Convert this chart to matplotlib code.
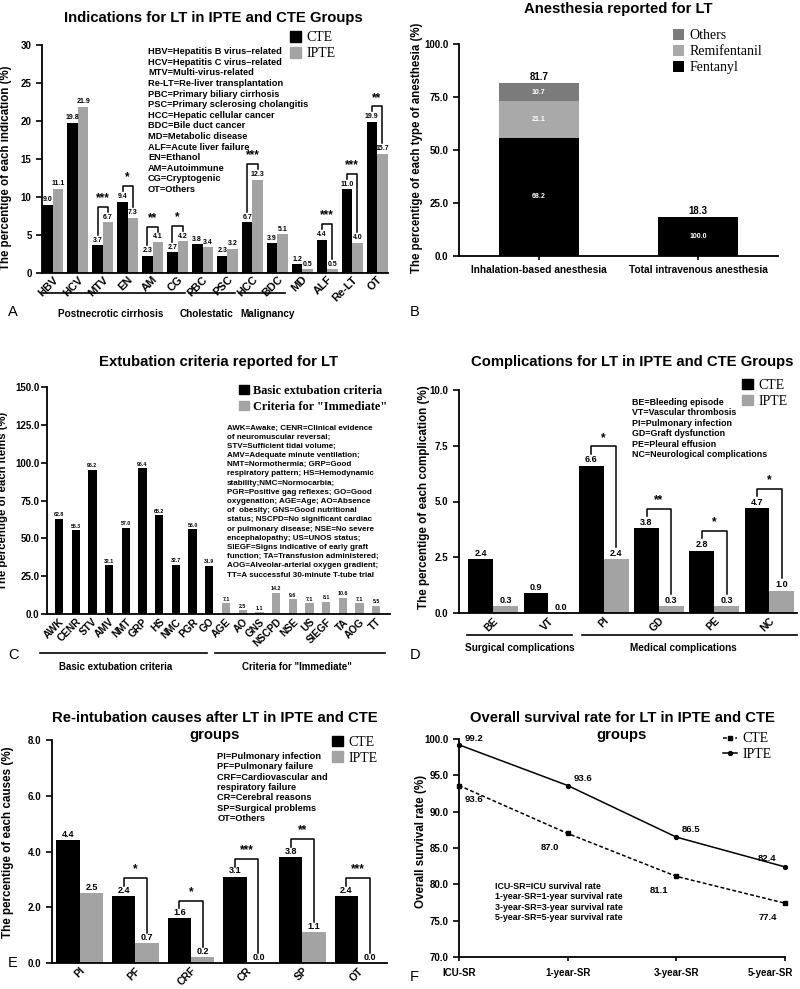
import matplotlib
matplotlib.use("Agg")
import matplotlib.pyplot as plt
from matplotlib.patches import Patch
import matplotlib.transforms as mtrans
import numpy as np

plt.rcParams['font.family'] = ['Liberation Sans', 'DejaVu Sans']
plt.rcParams['font.weight'] = 'bold'
plt.rcParams['axes.labelweight'] = 'bold'
plt.rcParams['axes.linewidth'] = 1.3

W, H = 800, 989
GRAY = '#a3a3a3'
SERIF = {'family': 'Liberation Serif', 'size': 10, 'weight': 'normal'}

# A - indications
ind_labels = ["HBV", "HCV", "MTV", "EN", "AM", "CG", "PBC", "PSC", "HCC", "BDC", "MD", "ALF", "Re-LT", "OT"]
ind_cte = [9.0, 19.8, 3.7, 9.4, 2.3, 2.7, 3.8, 2.3, 6.7, 3.9, 1.2, 4.4, 11.0, 19.9]
ind_ipte = [11.1, 21.9, 6.7, 7.3, 4.1, 4.2, 3.4, 3.2, 12.3, 5.1, 0.5, 0.5, 4.0, 15.7]
ind_sig = {"MTV": "***", "EN": "*", "AM": "**", "CG": "*", "HCC": "***", "ALF": "***", "Re-LT": "***", "OT": "**"}
ind_groups = [("Postnecrotic cirrhosis", 0, 5), ("Cholestatic", 6, 7), ("Malignancy", 8, 9)]
ind_abbr = ["HBV=Hepatitis B virus\u2013related", "HCV=Hepatitis C virus\u2013related", "MTV=Multi-virus-related",
            "Re-LT=Re-liver transplantation", "PBC=Primary biliary cirrhosis", "PSC=Primary sclerosing cholangitis",
            "HCC=Hepatic cellular cancer", "BDC=Bile duct cancer", "MD=Metabolic disease", "ALF=Acute liver failure",
            "EN=Ethanol", "AM=Autoimmune", "CG=Cryptogenic", "OT=Others"]

# B - anesthesia
anes_labels = ["Inhalation-based anesthesia", "Total intravenous anesthesia"]
anes_total = [81.7, 18.3]
fentanyl = [68.2, 100.0]
remifentanil = [21.1, 0.0]
others = [10.7, 0.0]

# C - extubation criteria
ext_labels = ["AWK", "CENR", "STV", "AMV", "NMT", "GRP", "HS", "NMC", "PGR", "GO",
              "AGE", "AO", "GNS", "NSCPD", "NSE", "US", "SIEGF", "TA", "AOG", "TT"]
ext_values = [62.8, 55.3, 95.2, 32.1, 57.0, 96.4, 65.2, 32.7, 56.0, 31.9,
              7.1, 2.5, 1.1, 14.2, 9.6, 7.1, 8.1, 10.6, 7.1, 5.5]
n_basic = 10
ext_abbr = ["AWK=Awake; CENR=Clinical evidence", "of neuromuscular reversal;", "STV=Sufficient tidal volume;",
            "AMV=Adequate minute ventilation;", "NMT=Normothermia; GRP=Good", "respiratory pattern; HS=Hemodynamic",
            "stability;NMC=Normocarbia;", "PGR=Positive gag reflexes; GO=Good", "oxygenation; AGE=Age; AO=Absence",
            "of  obesity; GNS=Good nutritional", "status; NSCPD=No significant cardiac",
            "or pulmonary disease; NSE=No severe", "encephalopathy; US=UNOS status;",
            "SIEGF=Signs indicative of early graft", "function; TA=Transfusion administered;",
            "AOG=Alveolar-arterial oxygen gradient;", "TT=A successful 30-minute T-tube trial"]

# D - complications
comp_labels = ["BE", "VT", "PI", "GD", "PE", "NC"]
comp_cte = [2.4, 0.9, 6.6, 3.8, 2.8, 4.7]
comp_ipte = [0.3, 0.0, 2.4, 0.3, 0.3, 1.0]
comp_sig = {"PI": "*", "GD": "**", "PE": "*", "NC": "*"}
comp_abbr = ["BE=Bleeding episode", "VT=Vascular thrombosis", "PI=Pulmonary infection", "GD=Graft dysfunction",
             "PE=Pleural effusion", "NC=Neurological complications"]

# E - re-intubation causes
reint_labels = ["PI", "PF", "CRF", "CR", "SP", "OT"]
reint_cte = [4.4, 2.4, 1.6, 3.1, 3.8, 2.4]
reint_ipte = [2.5, 0.7, 0.2, 0.0, 1.1, 0.0]
reint_sig = {"PF": "*", "CRF": "*", "CR": "***", "SP": "**", "OT": "***"}
reint_abbr = ["PI=Pulmonary infection", "PF=Pulmonary failure", "CRF=Cardiovascular and", "respiratory failure",
              "CR=Cerebral reasons", "SP=Surgical problems", "OT=Others"]

# F - survival
surv_labels = ["ICU-SR", "1-year-SR", "3-year-SR", "5-year-SR"]
surv_cte = [93.6, 87.0, 81.1, 77.4]
surv_ipte = [99.2, 93.6, 86.5, 82.4]
surv_abbr = ["ICU-SR=ICU survival rate", "1-year-SR=1-year survival rate", "3-year-SR=3-year survival rate",
             "5-year-SR=5-year survival rate"]


def px_axes(x0, y0, x1, y1):
    # pixel box (top-left origin) -> figure fraction rect
    return [x0 / W, 1 - y1 / H, (x1 - x0) / W, (y1 - y0) / H]


def ftext(x, y, s, **kw):
    fig.text(x / W, 1 - y / H, s, **kw)


def style(ax):
    for s in ['top', 'right']:
        ax.spines[s].set_visible(False)
    ax.tick_params(direction='out', length=4, width=1.2, labelsize=7)


def abbr(ax, x, y, lines, fs, step):
    # one text per line, step in pixels (dpi 100 -> 0.72 pt per px)
    for k, line in enumerate(lines):
        ax.annotate(line, xy=(x, y), xycoords='axes fraction', xytext=(0, -k * step * 0.72),
                    textcoords='offset points', ha='left', va='top', fontsize=fs)


def cte_legend(ax, x, y):
    h = [Patch(color='black', label='CTE'), Patch(color=GRAY, label='IPTE')]
    ax.legend(handles=h, loc='upper left', bbox_to_anchor=(x, y), frameon=False, prop=SERIF,
              handlelength=0.8, handleheight=0.8, handletextpad=0.4, labelspacing=0.2,
              borderpad=0, borderaxespad=0)


def grouped(ax, labels, cte, ipte, sig, width, ymax, vfs, top_off, leg_off, sfs):
    x = np.arange(len(labels))
    ax.bar(x - width / 2, cte, width, color='black')
    ax.bar(x + width / 2, ipte, width, color=GRAY)
    for xi, a, b in zip(x, cte, ipte):
        ax.text(xi - width / 2, a + ymax * 0.006, f"{a:.1f}", ha='center', va='bottom', fontsize=vfs)
        ax.text(xi + width / 2, b + ymax * 0.006, f"{b:.1f}", ha='center', va='bottom', fontsize=vfs)
    for lab, star in sig.items():
        i = labels.index(lab)
        a, b = cte[i], ipte[i]
        top = max(a, b) + top_off * ymax
        ax.plot([i - width / 2, i - width / 2, i + width / 2, i + width / 2],
                [a + leg_off * ymax, top, top, b + leg_off * ymax], color='black', lw=1.1)
        ax.text(i, top + 0.012 * ymax, star, ha='center', va='bottom', fontsize=sfs)
    ax.set_xticks(x)
    ax.set_xticklabels(labels, rotation=45, ha='right', rotation_mode='anchor')
    ax.set_ylim(0, ymax)


fig = plt.figure(figsize=(W / 100, H / 100), dpi=100)

# ---- A
axA = fig.add_axes(px_axes(42, 45, 388, 273))
style(axA)
grouped(axA, ind_labels, ind_cte, ind_ipte, ind_sig, 0.42, 30, 5, 0.067, 0.045, 8.5)
axA.set_xlim(-0.44, 13.44)
axA.set_yticks(np.arange(0, 31, 5))
axA.tick_params(axis='x', length=0, pad=1, labelsize=8)
axA.set_ylabel("The percentige of each indication (%)", fontsize=8.3)
axA.yaxis.set_label_coords(-0.086, 0.46)
tr = axA.get_xaxis_transform()
for name, s, e in ind_groups:
    axA.plot([max(s - 0.55, -0.42), e + 0.3], [-0.088, -0.088], color='black', lw=1.2, transform=tr, clip_on=False)
axA.text(2.3, -0.178, "Postnecrotic cirrhosis", ha='center', va='center', fontsize=7.2, transform=tr)
axA.text(6.15, -0.178, "Cholestatic", ha='center', va='center', fontsize=7.2, transform=tr)
axA.text(8.6, -0.178, "Malignancy", ha='center', va='center', fontsize=7.2, transform=tr)
cte_legend(axA, 0.717, 1.06)
abbr(axA, 0.306, 0.99, ind_abbr, 6.7, 10.6)
ftext(213, 18, "Indications for LT in IPTE and CTE Groups", ha='center', va='center', fontsize=10.7)
ftext(8, 312, "A", ha='left', va='center', fontsize=10.5, fontweight='normal')

# ---- B
axB = fig.add_axes(px_axes(459, 44, 778, 256))
style(axB)
xb = np.arange(len(anes_labels))
h_f = np.array(anes_total) * np.array(fentanyl) / 100
h_r = np.array(anes_total) * np.array(remifentanil) / 100
h_o = np.array(anes_total) * np.array(others) / 100
axB.bar(xb, h_f, 0.5, color='black', label='Fentanyl')
axB.bar(xb, h_r, 0.5, bottom=h_f, color='#a9a9a9', label='Remifentanil')
axB.bar(xb, h_o, 0.5, bottom=h_f + h_r, color='#7b7b7b', label='Others')
for i in range(len(xb)):
    segs = [(h_f[i], fentanyl[i], 0), (h_r[i], remifentanil[i], h_f[i]), (h_o[i], others[i], h_f[i] + h_r[i])]
    for hh, share, bot in segs:
        if hh > 0:
            axB.text(xb[i], bot + hh / 2, f"{share:.1f}", ha='center', va='center', color='white', fontsize=5)
    axB.text(xb[i], anes_total[i] + 0.6, f"{anes_total[i]:.1f}", ha='center', va='bottom', fontsize=7)
axB.set_xlim(-0.5, 1.5)
axB.set_ylim(0, 100)
axB.set_yticks(np.arange(0, 101, 25))
axB.set_yticklabels([f"{v:.1f}" for v in np.arange(0, 101, 25)])
axB.set_xticks(xb)
axB.set_xticklabels(anes_labels, fontsize=7.3)
axB.tick_params(axis='x', length=3)
axB.set_ylabel("The percentige of each type of anesthesia (%)", fontsize=8.3)
axB.yaxis.set_label_coords(-0.113, 0.51)
hb, lb = axB.get_legend_handles_labels()
axB.legend(hb[::-1], lb[::-1], loc='upper left', bbox_to_anchor=(0.671, 1.07), frameon=False, prop=SERIF,
           handlelength=0.8, handleheight=0.8, handletextpad=0.4, labelspacing=0.2, borderpad=0, borderaxespad=0)
ftext(618, 9, "Anesthesia reported for LT", ha='center', va='center', fontsize=10.7)
ftext(410, 312, "B", ha='left', va='center', fontsize=10.5, fontweight='normal')

# ---- C
axC = fig.add_axes(px_axes(47, 387, 390, 614))
style(axC)
xc = np.arange(len(ext_labels))
cols = ['black'] * n_basic + [GRAY] * (len(ext_labels) - n_basic)
axC.bar(xc, ext_values, 0.5, color=cols)
for xi, v in zip(xc, ext_values):
    axC.text(xi, v + 1.0, f"{v:.1f}", ha='center', va='bottom', fontsize=3.8)
axC.set_xlim(-0.72, 19.82)
axC.set_ylim(0, 150)
axC.set_yticks(np.arange(0, 151, 25))
axC.set_yticklabels([f"{v:.1f}" for v in np.arange(0, 151, 25)])
axC.tick_params(axis='y', pad=1.5)
axC.set_xticks(xc)
axC.set_xticklabels(ext_labels, rotation=45, ha='right', rotation_mode='anchor', fontsize=7.3)
axC.tick_params(axis='x', length=0, pad=2)
axC.set_ylabel("The percentige of each items (%)", fontsize=8.2)
axC.yaxis.set_label_coords(-0.113, 0.5)
trc = axC.get_xaxis_transform()
axC.plot([-1.14, 8.86], [-0.172, -0.172], color='black', lw=1.2, transform=trc, clip_on=False)
axC.plot([9.34, 19.52], [-0.172, -0.172], color='black', lw=1.2, transform=trc, clip_on=False)
axC.text(3.41, -0.233, "Basic extubation criteria", ha='center', va='center', fontsize=7, transform=trc)
axC.text(14.27, -0.233, "Criteria for \"Immediate\"", ha='center', va='center', fontsize=7, transform=trc)
hc = [Patch(color='black', label='Basic extubation criteria'), Patch(color=GRAY, label='Criteria for "Immediate"')]
axC.legend(handles=hc, loc='upper left', bbox_to_anchor=(0.56, 1.01), frameon=False,
           prop={'family': 'Liberation Serif', 'size': 8.8, 'weight': 'bold'},
           handlelength=0.8, handleheight=0.8, handletextpad=0.3, labelspacing=0.35, borderpad=0, borderaxespad=0)
abbr(axC, 0.525, 0.835, ext_abbr, 5.8, 9.2)
ftext(218, 362, "Extubation criteria reported for LT", ha='center', va='center', fontsize=10.7)
ftext(8, 655, "C", ha='left', va='center', fontsize=10.5, fontweight='normal')

# ---- D
axD = fig.add_axes(px_axes(459, 390, 797, 613))
style(axD)
grouped(axD, comp_labels, comp_cte, comp_ipte, comp_sig, 0.45, 10, 6.5, 0.087, 0.055, 8.5)
axD.set_xlim(-0.62, 5.5)
axD.set_yticks(np.arange(0, 10.1, 2.5))
axD.set_yticklabels([f"{v:.1f}" for v in np.arange(0, 10.1, 2.5)])
axD.tick_params(axis='x', length=0, pad=2, labelsize=7.5)
axD.set_ylabel("The percentige of each complication (%)", fontsize=8.4)
axD.yaxis.set_label_coords(-0.086, 0.52)
trd = axD.get_xaxis_transform()
axD.plot([-0.47, 1.42], [-0.099, -0.099], color='black', lw=1.2, transform=trd, clip_on=False)
axD.plot([1.6, 5.5], [-0.099, -0.099], color='black', lw=1.2, transform=trd, clip_on=False)
axD.text(0.48, -0.157, "Surgical complications", ha='center', va='center', fontsize=7.2, transform=trd)
axD.text(3.45, -0.157, "Medical complications", ha='center', va='center', fontsize=7.2, transform=trd)
cte_legend(axD, 0.837, 1.05)
abbr(axD, 0.512, 0.964, comp_abbr, 6.4, 10.4)
ftext(632, 362, "Complications for LT in IPTE and CTE Groups", ha='center', va='center', fontsize=10.7)
ftext(410, 655, "D", ha='left', va='center', fontsize=10.5, fontweight='normal')

# ---- E
axE = fig.add_axes(px_axes(52, 740, 387, 963))
style(axE)
grouped(axE, reint_labels, reint_cte, reint_ipte, reint_sig, 0.42, 8, 6.5, 0.08, 0.045, 8.5)
axE.set_xlim(-0.5, 5.52)
axE.set_yticks(np.arange(0, 8.1, 2))
axE.set_yticklabels([f"{v:.1f}" for v in np.arange(0, 8.1, 2)])
axE.tick_params(axis='x', length=0, pad=2, labelsize=7.5)
axE.set_ylabel("The percentige of each causes (%)", fontsize=8.4)
axE.yaxis.set_label_coords(-0.113, 0.54)
cte_legend(axE, 0.836, 1.02)
abbr(axE, 0.493, 0.946, reint_abbr, 6.7, 10.3)
ftext(215, 718, "Re-intubation causes after LT in IPTE and CTE", ha='center', va='center', fontsize=10.7)
ftext(215, 735, "groups", ha='center', va='center', fontsize=10.7)
ftext(8, 963, "E", ha='left', va='center', fontsize=10.5, fontweight='normal')

# ---- F
axF = fig.add_axes(px_axes(459, 739, 785, 957))
style(axF)
xf = np.arange(len(surv_labels))
axF.plot(xf, surv_cte, color='black', ls=(0, (2.5, 1.5)), lw=1.1, marker='s', ms=3.5, clip_on=False, label='CTE')
axF.plot(xf, surv_ipte, color='black', ls='-', lw=1.1, marker='o', ms=2.8, clip_on=False, label='IPTE')
cte_off = [(4, -10), (-6, -10), (-6, -10), (-6, -10)]
ipte_off = [(4, 1), (4, 2), (4, 2), (-6, 3)]
for i in range(len(xf)):
    ha_c = 'left' if cte_off[i][0] > 0 else 'right'
    ha_i = 'left' if ipte_off[i][0] > 0 else 'right'
    axF.annotate(f"{surv_cte[i]:.1f}", (xf[i], surv_cte[i]), xytext=cte_off[i], textcoords='offset points',
                 ha=ha_c, va='center', fontsize=6.8)
    axF.annotate(f"{surv_ipte[i]:.1f}", (xf[i], surv_ipte[i]), xytext=ipte_off[i], textcoords='offset points',
                 ha=ha_i, va='bottom', fontsize=6.8)
axF.set_xlim(0, 3)
axF.set_ylim(70, 100)
axF.set_yticks(np.arange(70, 101, 5))
axF.set_yticklabels([f"{v:.1f}" for v in np.arange(70, 101, 5)])
axF.set_xticks(xf)
axF.set_xticklabels(surv_labels, fontsize=7)
axF.tick_params(axis='x', length=3, pad=5)
# last label pulled left so it stays inside the figure
last = axF.get_xticklabels()[-1]
last.set_transform(last.get_transform() + mtrans.ScaledTranslation(-15 / 100, 0, fig.dpi_scale_trans))
axF.set_ylabel("Overall survival rate (%)", fontsize=8.4)
axF.yaxis.set_label_coords(-0.098, 0.53)
axF.legend(loc='upper left', bbox_to_anchor=(0.81, 1.03), frameon=False, prop=SERIF,
           handlelength=1.0, handletextpad=0.4, labelspacing=0.15, borderpad=0, borderaxespad=0)
abbr(axF, 0.11, 0.344, surv_abbr, 6.4, 10.3)
ftext(622, 718, "Overall survival rate for LT in IPTE and CTE", ha='center', va='center', fontsize=10.7)
ftext(622, 735, "groups", ha='center', va='center', fontsize=10.7)
ftext(410, 977, "F", ha='left', va='center', fontsize=10.5, fontweight='normal')

fig.savefig("out.png", dpi=100)
